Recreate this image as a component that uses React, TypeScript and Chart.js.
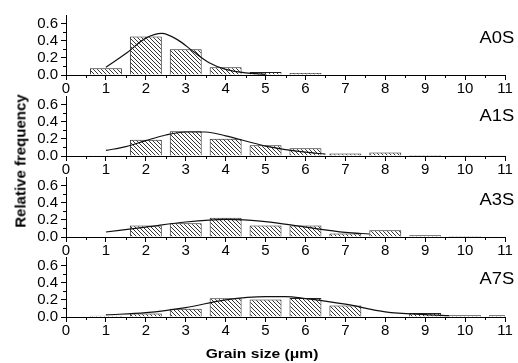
import { useEffect, useRef } from 'react';
import { Chart, registerables } from 'chart.js';

Chart.register(...registerables);

const W = 518;
const H = 363;

// ---- data ----
const bins = [1, 2, 3, 4, 5, 6, 7, 8, 9, 10, 11];

const a0sFreq = [0.08, 0.45, 0.3, 0.09, 0.035, 0.022, 0, 0, 0, 0, 0];
const a1sFreq = [0.01, 0.19, 0.29, 0.2, 0.125, 0.09, 0.03, 0.04, 0.012, 0.004, 0.004];
const a3sFreq = [0.005, 0.135, 0.16, 0.225, 0.135, 0.135, 0.042, 0.08, 0.02, 0.012, 0.01];
const a7sFreq = [0.015, 0.042, 0.097, 0.22, 0.205, 0.222, 0.135, 0.01, 0.046, 0.02, 0.02];

const a0sFitX = [1, 1.5, 2, 2.4, 2.8, 3.2, 3.6, 4, 4.5, 5];
const a0sFitY = [0.09, 0.25, 0.43, 0.485, 0.41, 0.27, 0.14, 0.065, 0.025, 0.008];

const a1sFitX = [1, 1.5, 2, 2.5, 3, 3.5, 4, 4.5, 5, 5.5, 6, 6.5];
const a1sFitY = [0.065, 0.11, 0.18, 0.245, 0.28, 0.28, 0.235, 0.175, 0.115, 0.075, 0.045, 0.022];

const a3sFitX = [1, 2, 3, 4, 5, 6, 7, 7.6];
const a3sFitY = [0.058, 0.115, 0.175, 0.205, 0.18, 0.115, 0.055, 0.035];

const a7sFitX = [1, 2, 3, 4, 5, 5.5, 6, 7, 8, 9, 9.6];
const a7sFitY = [0.025, 0.05, 0.11, 0.2, 0.238, 0.238, 0.215, 0.15, 0.06, 0.027, 0.015];

const panelLabels = ['A0S', 'A1S', 'A3S', 'A7S'];
const xMinorTicks = [0.5, 1.5, 2.5, 3.5, 4.5, 5.5, 6.5, 7.5, 8.5, 9.5, 10.5];
const yMinorTicks = [0.1, 0.3, 0.5];

const panels = [
  { label: panelLabels[0], freq: a0sFreq, fitX: a0sFitX, fitY: a0sFitY },
  { label: panelLabels[1], freq: a1sFreq, fitX: a1sFitX, fitY: a1sFitY },
  { label: panelLabels[2], freq: a3sFreq, fitX: a3sFitX, fitY: a3sFitY },
  { label: panelLabels[3], freq: a7sFreq, fitX: a7sFitX, fitY: a7sFitY },
];

// ---- layout ----
const axisY = [75, 156, 237, 317];
const plotH = 60;
const labelTop = [29.5, 108, 191.5, 270.5];
const FONT = '"Liberation Sans", Arial, Helvetica, sans-serif';

Chart.defaults.font.family = FONT;

function makeHatch(): CanvasPattern | string {
  const c = document.createElement('canvas');
  c.width = 4;
  c.height = 4;
  const g = c.getContext('2d');
  if (!g) return '#bbb';
  g.fillStyle = '#fff';
  g.fillRect(0, 0, 4, 4);
  g.strokeStyle = '#333';
  g.lineWidth = 1;
  g.beginPath();
  g.moveTo(-1, -1);
  g.lineTo(5, 5);
  g.moveTo(3, -1);
  g.lineTo(5, 1);
  g.moveTo(-1, 3);
  g.lineTo(1, 5);
  g.stroke();
  return g.createPattern(c, 'repeat') || '#bbb';
}

const minorTicks = {
  id: 'minorTicks',
  afterDraw(chart: any) {
    const { ctx, chartArea } = chart;
    const x = chart.scales.x;
    const y = chart.scales.y;
    ctx.save();
    ctx.strokeStyle = '#000';
    ctx.lineWidth = 1;
    ctx.beginPath();
    for (const v of xMinorTicks) {
      const px = Math.round(x.getPixelForValue(v)) + 0.5;
      ctx.moveTo(px, chartArea.bottom);
      ctx.lineTo(px, chartArea.bottom + 3);
    }
    for (const v of yMinorTicks) {
      const py = Math.round(y.getPixelForValue(v)) + 0.5;
      ctx.moveTo(chartArea.left - 3, py);
      ctx.lineTo(chartArea.left, py);
    }
    ctx.stroke();
    ctx.restore();
  },
};

function makeConfig(p: typeof panels[number], i: number, hatch: CanvasPattern | string): any {
  const top = axisY[i] - plotH;
  const xAxisH = 22;
  const bottom = H - axisY[i] - xAxisH;
  return {
    type: 'bar',
    data: {
      datasets: [
        {
          type: 'line',
          data: p.fitX.map((x, k) => ({ x, y: p.fitY[k] })),
          borderColor: '#111',
          borderWidth: 1.2,
          pointRadius: 0,
          cubicInterpolationMode: 'monotone',
          fill: false,
          order: 0,
        },
        {
          type: 'bar',
          data: bins.map((x, k) => ({ x, y: p.freq[k] })),
          backgroundColor: hatch,
          borderColor: '#222',
          borderWidth: 1,
          barPercentage: 0.8,
          categoryPercentage: 1,
          order: 1,
        },
      ],
    },
    options: {
      animation: false,
      responsive: false,
      events: [],
      layout: { padding: { top, bottom, left: 0, right: 13 } },
      plugins: { legend: { display: false }, tooltip: { enabled: false }, title: { display: false } },
      scales: {
        x: {
          type: 'linear',
          min: 0,
          max: 11,
          offset: false,
          ticks: { stepSize: 1, maxTicksLimit: 30, autoSkip: false, color: '#000', font: { size: 15, family: FONT }, padding: 0, maxRotation: 0 },
          grid: { display: true, drawOnChartArea: false, drawTicks: true, tickLength: 5, color: '#000', offset: false },
          border: { display: true, color: '#000', width: 1 },
          afterFit: (s: any) => {
            s.height = xAxisH;
          },
        },
        y: {
          type: 'linear',
          min: 0,
          max: 0.7,
          ticks: {
            stepSize: 0.2,
            includeBounds: false,
            autoSkip: false,
            maxTicksLimit: 30,
            color: '#000',
            font: { size: 15, family: FONT },
            padding: 3,
            callback: (v: number) => Number(v).toFixed(1),
          },
          grid: { display: true, drawOnChartArea: false, drawTicks: true, tickLength: 5, color: '#000' },
          border: { display: true, color: '#000', width: 1 },
          afterFit: (s: any) => {
            s.width = 66;
          },
        },
      },
    },
    plugins: [minorTicks],
  };
}

export default function App() {
  const refs = useRef<(HTMLCanvasElement | null)[]>([]);

  useEffect(() => {
    const hatch = makeHatch();
    const charts = panels.map((p, i) => new Chart(refs.current[i] as HTMLCanvasElement, makeConfig(p, i, hatch)));
    return () => charts.forEach((c) => c.destroy());
  }, []);

  return (
    <div
      style={{
        position: 'fixed',
        left: 0,
        top: 0,
        width: W,
        height: H,
        background: '#fff',
        fontFamily: FONT,
        color: '#000',
        overflow: 'hidden',
      }}
    >
      {panels.map((p, i) => (
        <canvas
          key={'c' + i}
          ref={(el) => {
            refs.current[i] = el;
          }}
          width={W}
          height={H}
          style={{ position: 'absolute', left: 0, top: 0, width: W, height: H }}
        />
      ))}
      {panels.map((p, i) => (
        <div
          key={'l' + i}
          style={{
            position: 'absolute',
            right: 3.5,
            top: labelTop[i],
            fontSize: 16,
            lineHeight: '16px',
            whiteSpace: 'nowrap',
            transform: 'scaleX(1.15)',
            transformOrigin: 'right top',
          }}
        >
          {p.label}
        </div>
      ))}
      <div
        style={{
          position: 'absolute',
          left: 20,
          top: 160.5,
          fontSize: 15,
          lineHeight: '15px',
          fontWeight: 'bold',
          whiteSpace: 'nowrap',
          transform: 'translate(-50%, -50%) rotate(-90deg)',
        }}
      >
        Relative frequency
      </div>
      <div
        style={{
          position: 'absolute',
          left: 262,
          top: 346.7,
          fontSize: 13,
          lineHeight: '13px',
          fontWeight: 'bold',
          whiteSpace: 'nowrap',
          transform: 'translateX(-50%) scaleX(1.2)',
        }}
      >
        Grain size (μm)
      </div>
    </div>
  );
}
